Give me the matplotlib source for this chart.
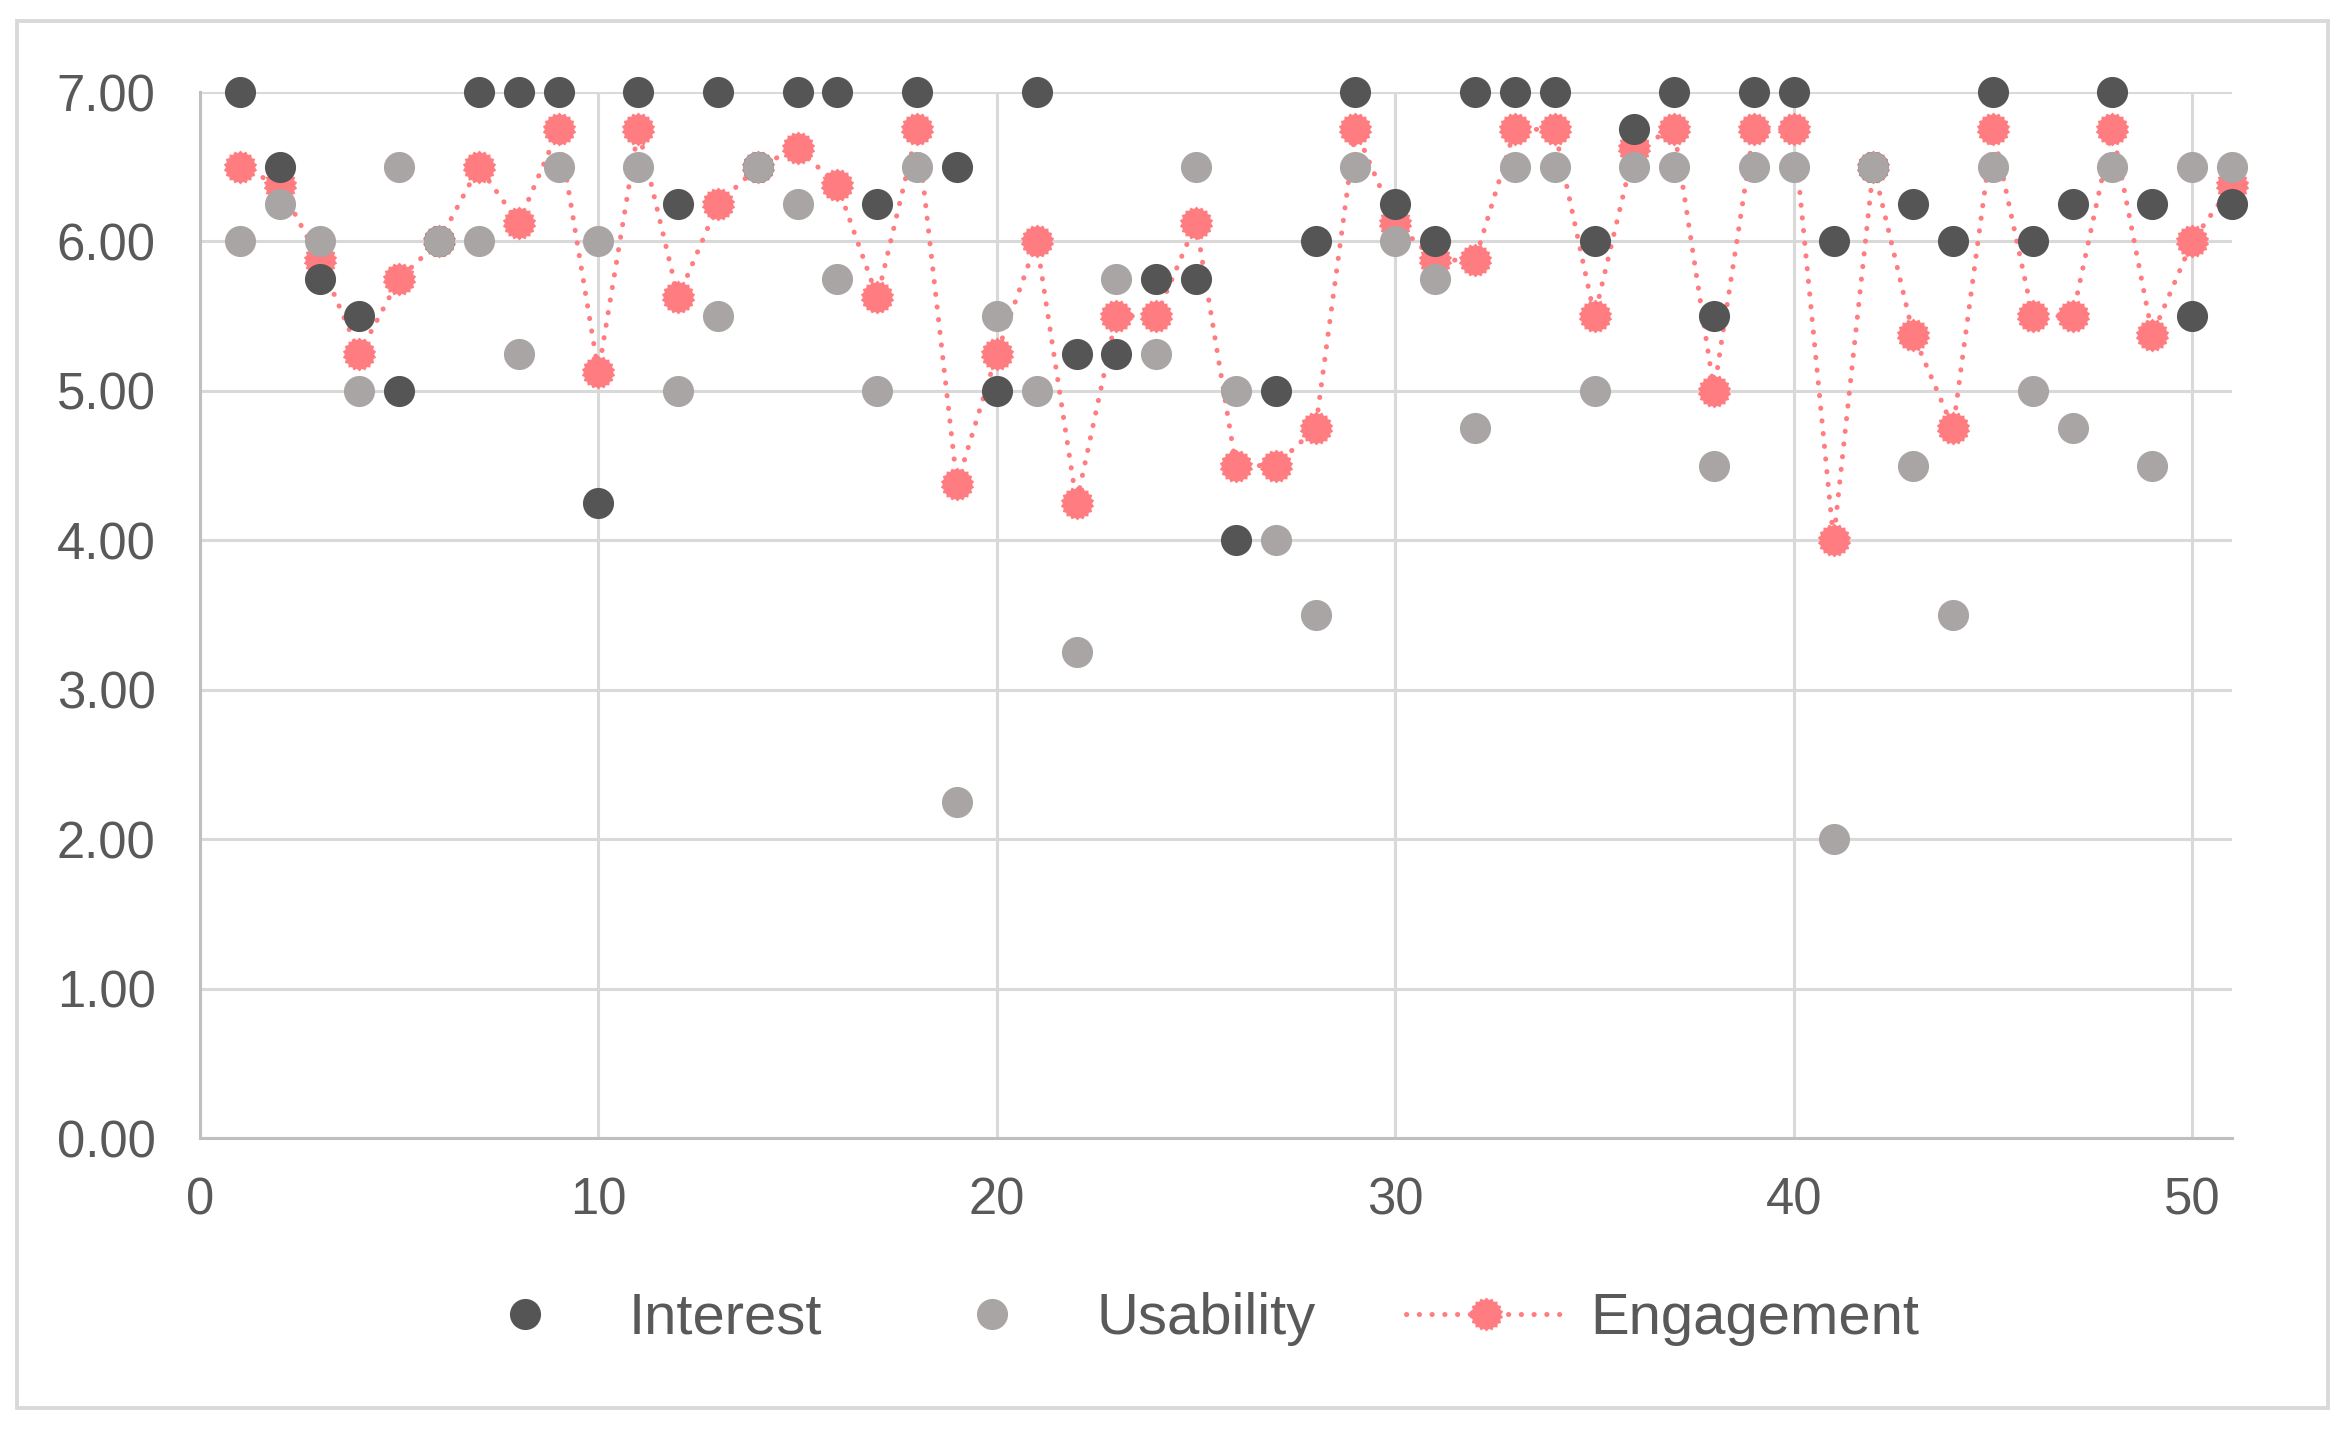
import matplotlib
matplotlib.use("Agg")
import matplotlib.pyplot as plt
from matplotlib.path import Path
from matplotlib.patches import Rectangle

# ---- data ----
x_vals = list(range(1, 52))
interest = [7.00, 6.50, 5.75, 5.50, 5.00, 6.00, 7.00, 7.00, 7.00, 4.25,
            7.00, 6.25, 7.00, 6.50, 7.00, 7.00, 6.25, 7.00, 6.50, 5.00,
            7.00, 5.25, 5.25, 5.75, 5.75, 4.00, 5.00, 6.00, 7.00, 6.25,
            6.00, 7.00, 7.00, 7.00, 6.00, 6.75, 7.00, 5.50, 7.00, 7.00,
            6.00, 6.50, 6.25, 6.00, 7.00, 6.00, 6.25, 7.00, 6.25, 5.50,
            6.25]
usability = [6.00, 6.25, 6.00, 5.00, 6.50, 6.00, 6.00, 5.25, 6.50, 6.00,
             6.50, 5.00, 5.50, 6.50, 6.25, 5.75, 5.00, 6.50, 2.25, 5.50,
             5.00, 3.25, 5.75, 5.25, 6.50, 5.00, 4.00, 3.50, 6.50, 6.00,
             5.75, 4.75, 6.50, 6.50, 5.00, 6.50, 6.50, 4.50, 6.50, 6.50,
             2.00, 6.50, 4.50, 3.50, 6.50, 5.00, 4.75, 6.50, 4.50, 6.50,
             6.50]
engagement = [6.500, 6.375, 5.875, 5.250, 5.750, 6.000, 6.500, 6.125, 6.750, 5.125,
              6.750, 5.625, 6.250, 6.500, 6.625, 6.375, 5.625, 6.750, 4.375, 5.250,
              6.000, 4.250, 5.500, 5.500, 6.125, 4.500, 4.500, 4.750, 6.750, 6.125,
              5.875, 5.875, 6.750, 6.750, 5.500, 6.625, 6.750, 5.000, 6.750, 6.750,
              4.000, 6.500, 5.375, 4.750, 6.750, 5.500, 5.500, 6.750, 5.375, 6.000,
              6.375]
series_names = ["Interest", "Usability", "Engagement"]
x_ticks = [0, 10, 20, 30, 40, 50]
y_ticks = [0, 1, 2, 3, 4, 5, 6, 7]

# ---- style ----
C_INT = "#555555"
C_USE = "#A9A5A5"
C_ENG = "#FF7C80"
C_GRID = "#D9D9D9"
C_TEXT = "#595959"

plt.rcParams["font.family"] = ["Liberation Sans", "DejaVu Sans"]

W, H, DPI = 2346, 1430, 200
fig = plt.figure(figsize=(W / DPI, H / DPI), dpi=DPI)
fig.patch.set_facecolor("white")

# outer chart border
fig.patches.append(Rectangle((17 / W, 1 - 1408 / H), (2328 - 17) / W, (1408 - 21) / H,
                             transform=fig.transFigure, fill=False,
                             edgecolor=C_GRID, linewidth=1.4, zorder=0))

ax = fig.add_axes([200 / W, 1 - 1138 / H, (2232 - 200) / W, (1138 - 92) / H])
ax.set_xlim(0, 51)
ax.set_ylim(0, 7)

serrated = Path.unit_regular_star(18, 0.86)

ax.plot(x_vals, engagement, color=C_ENG, linewidth=1.8,
        dashes=(0.05, 2.5), dash_capstyle="round",
        marker=serrated, markersize=12.2, markerfacecolor=C_ENG,
        markeredgecolor=C_ENG, markeredgewidth=0.0, label=series_names[2],
        zorder=3, clip_on=False)
ax.plot(x_vals, interest, linestyle="none", marker="o", markersize=11.2,
        color=C_INT, markeredgewidth=0, label=series_names[0], zorder=4,
        clip_on=False)
ax.plot(x_vals, usability, linestyle="none", marker="o", markersize=11.2,
        color=C_USE, markeredgewidth=0, label=series_names[1], zorder=5,
        clip_on=False)

ax.set_xticks(x_ticks)
ax.set_yticks(y_ticks)
ax.set_yticklabels([f"{v:.2f}" for v in y_ticks])
ax.grid(True, color=C_GRID, linewidth=1.1)
ax.set_axisbelow(True)
for s in ["top", "right"]:
    ax.spines[s].set_visible(False)
for s in ["left", "bottom"]:
    ax.spines[s].set_color("#BFBFBF")
    ax.spines[s].set_linewidth(1.1)
ax.tick_params(axis="both", length=0, labelsize=18.3, labelcolor=C_TEXT)
ax.tick_params(axis="y", pad=16)
ax.tick_params(axis="x", pad=14)

handles, labels = ax.get_legend_handles_labels()
order = [1, 2, 0]
leg = fig.legend([handles[i] for i in order], [labels[i] for i in order],
                 loc="center", bbox_to_anchor=(1182 / W, 1 - 1319 / H),
                 ncol=3, frameon=False, fontsize=20.9,
                 handlelength=2.75, handletextpad=0.42, columnspacing=1.55,
                 numpoints=1)
for t in leg.get_texts():
    t.set_color(C_TEXT)

fig.savefig("out.png", dpi=DPI, facecolor="white")
